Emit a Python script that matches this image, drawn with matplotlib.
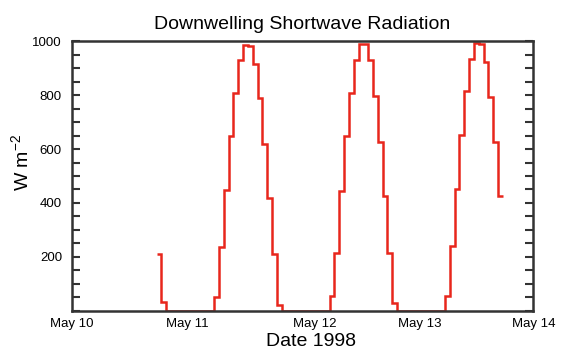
import numpy as np
import matplotlib.pyplot as plt
from matplotlib.ticker import MultipleLocator

plt.rcParams['font.family'] = ['Liberation Sans', 'DejaVu Sans']

# hourly downwelling shortwave (W m-2), first step begins May 10 17:39
start_hour = 17.65
may10 = [210, 33, 0, 0, 0, 0, 0, 0, 0, 0, 0, 0]
may11 = [53, 238, 448, 648, 809, 928, 985, 981, 913, 790, 620, 420, 210, 21,
         0, 0, 0, 0, 0, 0, 0, 0, 0, 0]
may12 = [56, 216, 446, 648, 809, 929, 990, 988, 929, 796, 626, 426, 214, 31,
         0, 0, 0, 0, 0, 0, 0, 0, 0, 0]
may13 = [56, 241, 451, 651, 815, 932, 991, 988, 922, 794, 626, 426]

date_labels = ['May 10', 'May 11', 'May 12', 'May 13', 'May 14']
label_hours = [0, 24, 50.6, 72.4, 96]
yticks = [200, 400, 600, 800, 1000]

values = np.array(may10 + may11 + may12 + may13, dtype=float)
edges = start_hour + np.arange(len(values) + 1)

fig = plt.figure(figsize=(5.61, 3.52), dpi=100)
ax = fig.add_axes([0.1278, 0.1165, 0.8228, 0.767])

ax.stairs(values, edges, baseline=None, color='#e8261c', linewidth=1.8)

ax.set_xlim(0, 96)
ax.set_ylim(0, 1000)
ax.set_xticks(label_hours)
ax.set_xticklabels(date_labels)
ax.set_yticks(yticks)
ax.yaxis.set_minor_locator(MultipleLocator(50))

ax.tick_params(axis='x', length=0, pad=5, labelsize=9.5)
ax.tick_params(axis='y', which='both', direction='in', length=5.5, width=1.5,
               left=True, right=True, labelsize=9.5, pad=7, color='#333333')

for s in ax.spines.values():
    s.set_linewidth(1.8)
    s.set_color('#333333')

ax.set_title('Downwelling Shortwave Radiation', fontsize=14, pad=9)
ax.set_xlabel('Date 1998', fontsize=14)
ax.set_ylabel(r'W m$^{\mathregular{-2}}$', fontsize=14)
ax.xaxis.set_label_coords(0.518, -0.08)
ax.yaxis.set_label_coords(-0.084, 0.55)

fig.savefig('out.png', dpi=100)
